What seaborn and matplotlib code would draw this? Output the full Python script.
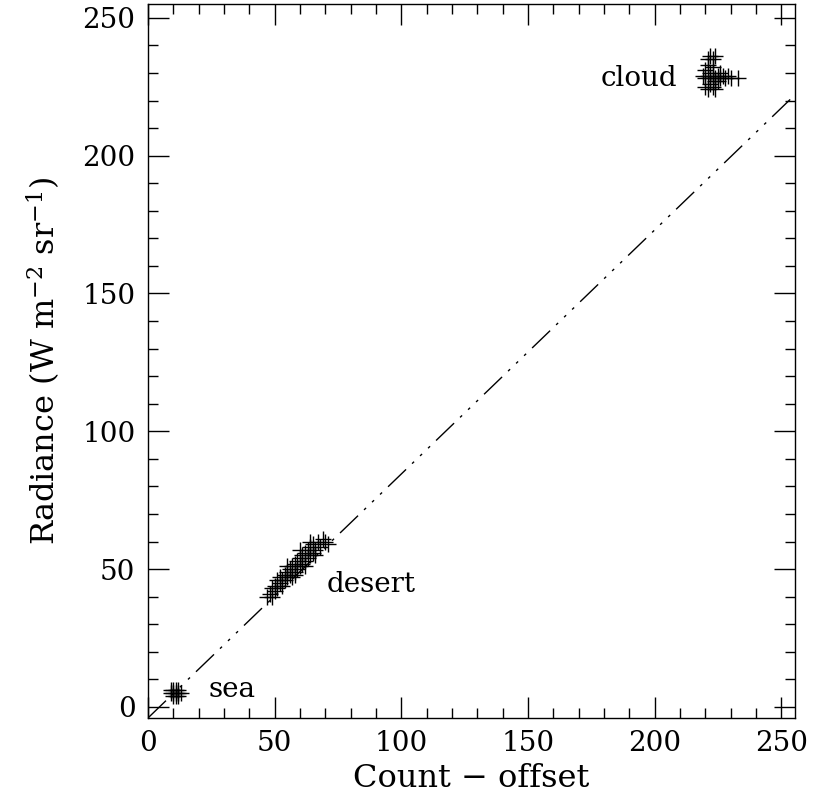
import numpy as np
import pandas as pd
import seaborn as sns
import matplotlib.pyplot as plt

# measured points: counts (minus offset) vs radiance, three scene types
sea_x = [9, 10, 10, 11, 11, 12, 9, 12, 13, 10, 11, 12]
sea_y = [5, 6, 5, 6, 5, 5, 6, 6, 5, 4, 4, 4]

desert_x = [47, 48, 49, 50, 50, 51, 52, 52, 53, 53, 54, 54, 55, 55, 56, 56,
            57, 57, 58, 58, 59, 59, 60, 60, 61, 61, 62, 62, 63, 63, 64, 64,
            65, 65, 66, 67, 68, 69, 70, 71, 55, 58, 60, 62, 64, 66, 51, 49]
desert_y = [40, 41, 40, 42, 44, 43, 45, 47, 44, 46, 48, 46, 47, 49, 48, 50,
            47, 51, 49, 52, 50, 53, 51, 54, 52, 55, 53, 56, 54, 57, 55, 58,
            56, 59, 57, 60, 58, 61, 60, 59, 51, 48, 57, 51, 60, 55, 46, 43]

cloud_x = [220, 221, 222, 223, 224, 225, 226, 227, 228, 229, 230, 233,
           221, 222, 223, 224, 220, 221, 222, 223, 224, 219, 222, 225, 226,
           220, 223, 221, 224]
cloud_y = [228, 229, 228, 229, 228, 229, 228, 229, 228, 229, 228, 228,
           235, 236, 235, 236, 225, 224, 226, 225, 224, 229, 230, 227, 230,
           231, 232, 233, 227]

fit_slope = 0.885
fit_icpt = -4.0

df = pd.DataFrame({
    'count': sea_x + desert_x + cloud_x,
    'radiance': sea_y + desert_y + cloud_y,
})

sns.set_style('ticks')
plt.rcParams['font.family'] = ['DejaVu Serif']
plt.rcParams['mathtext.fontset'] = 'dejavuserif'
plt.rcParams['text.color'] = 'black'
plt.rcParams['axes.labelcolor'] = 'black'
plt.rcParams['xtick.color'] = 'black'
plt.rcParams['ytick.color'] = 'black'
plt.rcParams['axes.edgecolor'] = 'black'

fig = plt.figure(figsize=(8.13, 8.09), dpi=100)
ax = fig.add_axes([0.182, 0.1125, 0.796, 0.8825])

fx = np.array([0, 255.5])
sns.lineplot(x=fx, y=fit_slope * fx + fit_icpt, ax=ax, color='k', lw=1,
             linestyle=(0, (18, 6, 2, 6, 2, 6, 2, 6)))
sns.scatterplot(data=df, x='count', y='radiance', ax=ax, marker='+', s=140,
                color='k', linewidth=1)

ax.text(194, 228, 'cloud', ha='center', va='center', fontsize=20)
ax.text(88, 44.5, 'desert', ha='center', va='center', fontsize=20)
ax.text(33, 6.5, 'sea', ha='center', va='center', fontsize=20)

ax.set_xlim(0, 255.5)
ax.set_ylim(-4, 255)
ax.set_xticks(np.arange(0, 251, 50))
ax.set_yticks(np.arange(0, 251, 50))
ax.set_xticks(np.arange(0, 256, 10), minor=True)
ax.set_yticks(np.arange(0, 256, 10), minor=True)
ax.tick_params(which='both', direction='in', top=True, right=True,
               labelsize=20, width=1)
ax.tick_params(which='major', length=15, pad=9)
ax.tick_params(which='minor', length=7)
for s in ax.spines.values():
    s.set_linewidth(1)

ax.set_xlabel('Count \u2212 offset', fontsize=23, labelpad=4)
ax.set_ylabel(r'Radiance (W m$^{-2}$ sr$^{-1}$)', fontsize=23, labelpad=14)

fig.savefig('out.png', dpi=100)
